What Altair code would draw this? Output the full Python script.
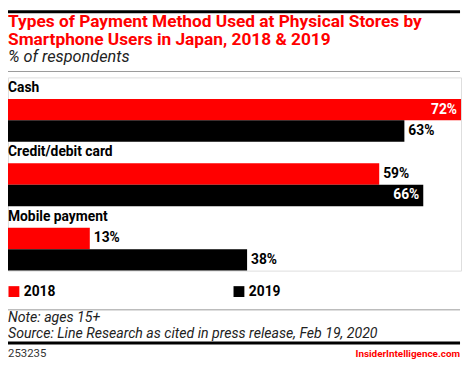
import altair as alt
import pandas as pd

# ---- data ----
categories = ["Cash", "Credit/debit card", "Mobile payment"]
years = ["2018", "2019"]
values_2018 = [72, 59, 13]
values_2019 = [63, 66, 38]
colors = ["#ff0000", "#000000"]

title_lines = ["Types of Payment Method Used at Physical Stores by",
               "Smartphone Users in Japan, 2018 & 2019"]
subtitle = "% of respondents"
note = "Note: ages 15+"
source = "Source: Line Research as cited in press release, Feb 19, 2020"
chart_id = "253235"
brand = "InsiderIntelligence.com"

FONT = "Roboto"

# ---- tables ----
row_order = []
bar_rows = []
label_rows = []
xmax = max(values_2018 + values_2019)
for i, cat in enumerate(categories):
    row_order.append(f"{cat}|label")
    label_rows.append({"row": f"{cat}|label", "category": cat})
    for yr, vals in zip(years, [values_2018, values_2019]):
        key = f"{cat}|{yr}"
        row_order.append(key)
        v = vals[i]
        bar_rows.append({"row": key, "category": cat, "year": yr, "value": v,
                         "label": f"{v}%", "inside": v / xmax > 0.9})
bars_df = pd.DataFrame(bar_rows)
labels_df = pd.DataFrame(label_rows)
one = pd.DataFrame({"a": [0]})

W = 459
H = 9 * 21.75

y_enc = alt.Y("row:N", scale=alt.Scale(domain=row_order, paddingInner=0, paddingOuter=0), axis=None)
x_enc = alt.X("value:Q", scale=alt.Scale(domain=[0, xmax], nice=False, zero=True), axis=None)

bars = alt.Chart(bars_df).mark_bar(size=21.75).encode(
    x=x_enc,
    y=y_enc,
    color=alt.Color("year:N", scale=alt.Scale(domain=years, range=colors),
                    legend=alt.Legend(orient="none", legendX=-1, legendY=210,
                                      direction="horizontal", title=None,
                                      symbolType="square", symbolSize=121,
                                      symbolStrokeWidth=0, symbolOpacity=1,
                                      labelFont=FONT, labelFontSize=14,
                                      labelFontWeight="bold", labelColor="#000",
                                      labelOffset=3, columnPadding=178)),
)

vals_out = alt.Chart(bars_df).transform_filter("!datum.inside").mark_text(
    align="left", baseline="middle", dx=4, font=FONT, fontSize=14,
    fontWeight="bold", color="#000").encode(x=x_enc, y=y_enc, text="label:N")

vals_in = alt.Chart(bars_df).transform_filter("datum.inside").mark_text(
    align="right", baseline="middle", dx=-4, font=FONT, fontSize=14,
    fontWeight="bold", color="#fff").encode(x=x_enc, y=y_enc, text="label:N")

cat_labels = alt.Chart(labels_df).mark_text(
    align="left", baseline="middle", font=FONT, fontSize=14,
    fontWeight="bold", color="#000").encode(x=alt.value(0), y=y_enc, text="category:N")


def rule(y, color, width):
    return alt.Chart(one).mark_rule(color=color, strokeWidth=width).encode(
        x=alt.value(0), x2=alt.value(458), y=alt.value(y))


def txt(y, text, align="left", x=0, **kw):
    return alt.Chart(one).mark_text(align=align, baseline="alphabetic", font=FONT, **kw).encode(
        x=alt.value(x), y=alt.value(y), text=alt.value(text))


top_rule = rule(-66.5, "#000", 3)
sub_rule = rule(-6, "#999", 1)
leg_rule = rule(235.5, "#999", 1)
foot_rule = rule(269, "#000", 3)

title1 = txt(-50.8, title_lines[0], fontSize=17.5, fontWeight="bold", color="#ff0000")
title2 = txt(-33.3, title_lines[1], fontSize=17.5, fontWeight="bold", color="#ff0000")
sub_t = txt(-15.5, subtitle, fontSize=16.5, fontStyle="italic", color="#222")

note_t = txt(248.3, note, fontSize=14.3, fontStyle="italic", color="#222")
source_t = txt(264, source, fontSize=14.3, fontStyle="italic", color="#222")
id_t = txt(283.3, chart_id, fontSize=11.5, color="#333")
brand_t = txt(283.3, brand, align="right", x=458, fontSize=10, fontWeight="bold", color="#ff0000")

chart = alt.layer(
    bars, vals_out, vals_in, cat_labels,
    top_rule, sub_rule, leg_rule, foot_rule,
    title1, title2, sub_t,
    note_t, source_t, id_t, brand_t,
).properties(
    width=W, height=H,
    autosize=alt.AutoSizeParams(type="none"),
    padding={"left": 0, "top": 68, "right": 1, "bottom": 352 - 68 - H},
).configure_view(stroke=None).configure(background="white")

chart.save("out.html", embed_options={"renderer": "svg", "actions": False})
